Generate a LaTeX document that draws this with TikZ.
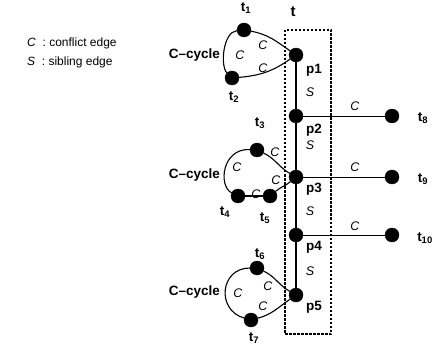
\documentclass[tikz,border=0pt]{standalone}
\usepackage{fontspec}
\setmainfont{Liberation Sans}
\setsansfont{Liberation Sans}
\begin{document}
\begin{tikzpicture}[x=1pt,y=-1pt,
  dot/.style={circle,fill=black,draw=black,inner sep=0pt,minimum size=14pt},
  lbl/.style={font=\bfseries\fontsize{13.5}{15}\selectfont,inner sep=0pt},
  cyclbl/.style={lbl,anchor=east},
  edgelbl/.style={font=\itshape\fontsize{12.5}{14}\selectfont,inner sep=0pt},
  legend/.style={anchor=west,font=\fontsize{12}{14}\selectfont,inner sep=0pt},
  cyc/.style={line width=1.1pt},
  sib/.style={line width=1.2pt},
  conf/.style={line width=0.8pt},
  group/.style={draw,line width=1.3pt,dash pattern=on 2.5pt off 1.5pt,inner sep=0pt}]
\useasboundingbox (0,0) rectangle (434,350);

% legend
\node[legend] (leg1) at (27,43) {\textit{C}\ \ : conflict edge};
\node[legend] (leg2) at (27,62) {\textit{S}\ \ : sibling edge};

% group box t
\node[group,minimum width=46pt,minimum height=304pt] (tbox) at (308,182) {};
\node[lbl,font=\bfseries\fontsize{15}{17}\selectfont] (tlab) at (293,12) {t};

% path nodes
\node[dot] (p1) at (296,55) {};
\node[dot] (p2) at (296,116) {};
\node[dot] (p3) at (296,177) {};
\node[dot] (p4) at (296,235) {};
\node[dot] (p5) at (296,295) {};
\node[lbl] (p1l) at (314,70) {p1};
\node[lbl] (p2l) at (314,130) {p2};
\node[lbl] (p3l) at (314,189) {p3};
\node[lbl] (p4l) at (314,247) {p4};
\node[lbl] (p5l) at (314,307) {p5};

% outer nodes
\node[dot] (t1) at (244,30) {};
\node[dot] (t2) at (232,78) {};
\node[dot] (t3) at (257,150) {};
\node[dot] (t4) at (238,196) {};
\node[dot] (t5) at (270,196) {};
\node[dot] (t6) at (257,268) {};
\node[dot] (t7) at (251,320) {};
\node[dot] (t8) at (392,116) {};
\node[dot] (t9) at (392,177) {};
\node[dot] (t10) at (392,235) {};

\node[lbl] (t1l) at (246,8) {t$_{\mathbf 1}$};
\node[lbl] (t2l) at (234,97) {t$_{\mathbf 2}$};
\node[lbl] (t3l) at (260,123) {t$_{\mathbf 3}$};
\node[lbl] (t4l) at (225,212) {t$_{\mathbf 4}$};
\node[lbl] (t5l) at (265,218) {t$_{\mathbf 5}$};
\node[lbl] (t6l) at (260,254) {t$_{\mathbf 6}$};
\node[lbl] (t7l) at (254,338) {t$_{\mathbf 7}$};
\node[lbl] (t8l) at (423,118) {t$_{\mathbf 8}$};
\node[lbl] (t9l) at (423,179) {t$_{\mathbf 9}$};
\node[lbl] (t10l) at (425,238) {t$_{\mathbf{10}}$};

% sibling edges
\draw[sib] (p1) -- (p2) -- (p3) -- (p4) -- (p5);
\node[edgelbl] (s1) at (310,92) {S};
\node[edgelbl] (s2) at (310,145) {S};
\node[edgelbl] (s3) at (310,211) {S};
\node[edgelbl] (s4) at (310,271) {S};

% conflict edges to the right
\draw[conf] (p2) -- (t8);
\draw[conf] (p3) -- (t9);
\draw[conf] (p4) -- (t10);
\node[edgelbl] (c8) at (355,106) {C};
\node[edgelbl] (c9) at (355,167) {C};
\node[edgelbl] (c10) at (355,226) {C};

% C-cycle 1
\draw[cyc] (t1) to[out=-10,in=145] (p1);
\draw[cyc] (p1) to[out=-145,in=5] (t2);
\draw[cyc] (t2) .. controls (220,66) and (223,32) .. (t1);
\node[cyclbl] (cc1) at (220,55) {C--cycle};
\node[edgelbl] (c1a) at (240,55) {C};
\node[edgelbl] (c1b) at (263,45) {C};
\node[edgelbl] (c1c) at (263,68) {C};

% C-cycle 2
\draw[cyc] (t3) to[out=-25,in=150] (p3);
\draw[cyc] (p3) to[out=-140,in=40] (t5);
\draw[cyc] (t5) -- (t4);
\draw[cyc] (t4) .. controls (218,186) and (222,148) .. (t3);
\node[cyclbl] (cc2) at (220,175) {C--cycle};
\node[edgelbl] (c2a) at (237,167) {C};
\node[edgelbl] (c2b) at (275,152) {C};
\node[edgelbl] (c2c) at (276,180) {C};
\node[edgelbl] (c2d) at (256,194) {C};

% C-cycle 3
\draw[cyc] (t6) to[out=-25,in=150] (p5);
\draw[cyc] (p5) to[out=-145,in=15] (t7);
\draw[cyc] (t7) .. controls (216,310) and (220,268) .. (t6);
\node[cyclbl] (cc3) at (220,292) {C--cycle};
\node[edgelbl] (c3a) at (238,293) {C};
\node[edgelbl] (c3b) at (268,286) {C};
\node[edgelbl] (c3c) at (263,306) {C};
\end{tikzpicture}
\end{document}
